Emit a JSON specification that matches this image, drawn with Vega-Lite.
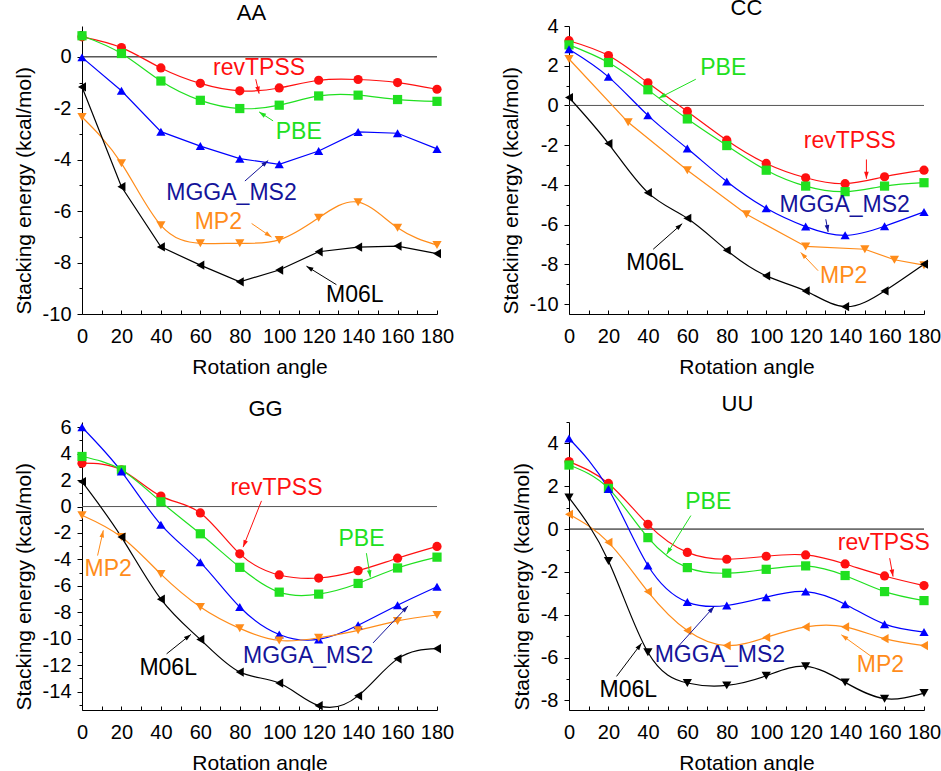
{
  "$schema": "https://vega.github.io/schema/vega-lite/v6.json",
  "padding": {"left": 13, "top": -3, "right": 5, "bottom": 5},
  "columns": 2,
  "spacing": {"row": 108, "column": 132},
  "bounds": "flush",
  "resolve": {"scale": {"shape": "independent", "x": "independent", "y": "independent"}},
  "config": {
    "font": "Liberation Sans",
    "view": {"stroke": null},
    "axis": {"grid": false, "domainColor": "black", "tickColor": "black", "labelColor": "black", "titleColor": "black", "labelFont": "Liberation Sans", "titleFont": "Liberation Sans", "labelFontSize": 20, "titleFontSize": 21, "titleFontWeight": "normal", "labelFlush": false, "labelOverlap": false, "domainWidth": 1, "tickWidth": 1},
    "axisX": {"tickSize": -4, "labelPadding": 16, "titlePadding": 10},
    "axisY": {"labelPadding": 6, "titlePadding": 8},
    "title": {"font": "Liberation Sans", "fontSize": 22, "fontWeight": "normal", "color": "black", "offset": -4}
  },
  "datasets": {
    "AA": [
      {"method": "revTPSS", "angle": 0, "energy": 0.78}, {"method": "revTPSS", "angle": 20, "energy": 0.36}, {"method": "revTPSS", "angle": 40, "energy": -0.43}, {"method": "revTPSS", "angle": 60, "energy": -1.03}, {"method": "revTPSS", "angle": 80, "energy": -1.32}, {"method": "revTPSS", "angle": 100, "energy": -1.21}, {"method": "revTPSS", "angle": 120, "energy": -0.91}, {"method": "revTPSS", "angle": 140, "energy": -0.88}, {"method": "revTPSS", "angle": 160, "energy": -1.0}, {"method": "revTPSS", "angle": 180, "energy": -1.26},
      {"method": "PBE", "angle": 0, "energy": 0.82}, {"method": "PBE", "angle": 20, "energy": 0.13}, {"method": "PBE", "angle": 40, "energy": -0.94}, {"method": "PBE", "angle": 60, "energy": -1.69}, {"method": "PBE", "angle": 80, "energy": -2.01}, {"method": "PBE", "angle": 100, "energy": -1.88}, {"method": "PBE", "angle": 120, "energy": -1.52}, {"method": "PBE", "angle": 140, "energy": -1.49}, {"method": "PBE", "angle": 160, "energy": -1.66}, {"method": "PBE", "angle": 180, "energy": -1.73},
      {"method": "MGGA_MS2", "angle": 0, "energy": -0.02}, {"method": "MGGA_MS2", "angle": 20, "energy": -1.32}, {"method": "MGGA_MS2", "angle": 40, "energy": -2.91}, {"method": "MGGA_MS2", "angle": 60, "energy": -3.47}, {"method": "MGGA_MS2", "angle": 80, "energy": -3.96}, {"method": "MGGA_MS2", "angle": 100, "energy": -4.18}, {"method": "MGGA_MS2", "angle": 120, "energy": -3.66}, {"method": "MGGA_MS2", "angle": 140, "energy": -2.92}, {"method": "MGGA_MS2", "angle": 160, "energy": -2.97}, {"method": "MGGA_MS2", "angle": 180, "energy": -3.58},
      {"method": "MP2", "angle": 0, "energy": -2.34}, {"method": "MP2", "angle": 20, "energy": -4.14}, {"method": "MP2", "angle": 40, "energy": -6.55}, {"method": "MP2", "angle": 60, "energy": -7.25}, {"method": "MP2", "angle": 80, "energy": -7.25}, {"method": "MP2", "angle": 100, "energy": -7.12}, {"method": "MP2", "angle": 120, "energy": -6.26}, {"method": "MP2", "angle": 140, "energy": -5.65}, {"method": "MP2", "angle": 160, "energy": -6.65}, {"method": "MP2", "angle": 180, "energy": -7.32},
      {"method": "M06L", "angle": 0, "energy": -1.17}, {"method": "M06L", "angle": 20, "energy": -5.05}, {"method": "M06L", "angle": 40, "energy": -7.39}, {"method": "M06L", "angle": 60, "energy": -8.1}, {"method": "M06L", "angle": 80, "energy": -8.75}, {"method": "M06L", "angle": 100, "energy": -8.29}, {"method": "M06L", "angle": 120, "energy": -7.58}, {"method": "M06L", "angle": 140, "energy": -7.4}, {"method": "M06L", "angle": 160, "energy": -7.36}, {"method": "M06L", "angle": 180, "energy": -7.65}
    ],
    "CC": [
      {"method": "revTPSS", "angle": 0, "energy": 3.26}, {"method": "revTPSS", "angle": 20, "energy": 2.51}, {"method": "revTPSS", "angle": 40, "energy": 1.14}, {"method": "revTPSS", "angle": 60, "energy": -0.3}, {"method": "revTPSS", "angle": 80, "energy": -1.75}, {"method": "revTPSS", "angle": 100, "energy": -2.92}, {"method": "revTPSS", "angle": 120, "energy": -3.64}, {"method": "revTPSS", "angle": 140, "energy": -3.94}, {"method": "revTPSS", "angle": 160, "energy": -3.59}, {"method": "revTPSS", "angle": 180, "energy": -3.26},
      {"method": "PBE", "angle": 0, "energy": 3.05}, {"method": "PBE", "angle": 20, "energy": 2.16}, {"method": "PBE", "angle": 40, "energy": 0.79}, {"method": "PBE", "angle": 60, "energy": -0.68}, {"method": "PBE", "angle": 80, "energy": -2.02}, {"method": "PBE", "angle": 100, "energy": -3.26}, {"method": "PBE", "angle": 120, "energy": -4.06}, {"method": "PBE", "angle": 140, "energy": -4.34}, {"method": "PBE", "angle": 160, "energy": -4.06}, {"method": "PBE", "angle": 180, "energy": -3.89},
      {"method": "MGGA_MS2", "angle": 0, "energy": 2.83}, {"method": "MGGA_MS2", "angle": 20, "energy": 1.44}, {"method": "MGGA_MS2", "angle": 40, "energy": -0.5}, {"method": "MGGA_MS2", "angle": 60, "energy": -2.17}, {"method": "MGGA_MS2", "angle": 80, "energy": -3.83}, {"method": "MGGA_MS2", "angle": 100, "energy": -5.18}, {"method": "MGGA_MS2", "angle": 120, "energy": -6.1}, {"method": "MGGA_MS2", "angle": 140, "energy": -6.54}, {"method": "MGGA_MS2", "angle": 160, "energy": -6.08}, {"method": "MGGA_MS2", "angle": 180, "energy": -5.36},
      {"method": "MP2", "angle": 0, "energy": 2.34}, {"method": "MP2", "angle": 30, "energy": -0.85}, {"method": "MP2", "angle": 60, "energy": -3.26}, {"method": "MP2", "angle": 90, "energy": -5.48}, {"method": "MP2", "angle": 120, "energy": -7.1}, {"method": "MP2", "angle": 150, "energy": -7.24}, {"method": "MP2", "angle": 165, "energy": -7.77}, {"method": "MP2", "angle": 180, "energy": -8.04},
      {"method": "M06L", "angle": 0, "energy": 0.4}, {"method": "M06L", "angle": 20, "energy": -1.92}, {"method": "M06L", "angle": 40, "energy": -4.39}, {"method": "M06L", "angle": 60, "energy": -5.68}, {"method": "M06L", "angle": 80, "energy": -7.29}, {"method": "M06L", "angle": 100, "energy": -8.58}, {"method": "M06L", "angle": 120, "energy": -9.34}, {"method": "M06L", "angle": 140, "energy": -10.13}, {"method": "M06L", "angle": 160, "energy": -9.34}, {"method": "M06L", "angle": 180, "energy": -7.99}
    ],
    "GG": [
      {"method": "revTPSS", "angle": 0, "energy": 3.28}, {"method": "revTPSS", "angle": 20, "energy": 2.77}, {"method": "revTPSS", "angle": 40, "energy": 0.79}, {"method": "revTPSS", "angle": 60, "energy": -0.48}, {"method": "revTPSS", "angle": 80, "energy": -3.58}, {"method": "revTPSS", "angle": 100, "energy": -5.18}, {"method": "revTPSS", "angle": 120, "energy": -5.41}, {"method": "revTPSS", "angle": 140, "energy": -4.85}, {"method": "revTPSS", "angle": 160, "energy": -3.91}, {"method": "revTPSS", "angle": 180, "energy": -3.02},
      {"method": "PBE", "angle": 0, "energy": 3.79}, {"method": "PBE", "angle": 20, "energy": 2.77}, {"method": "PBE", "angle": 40, "energy": 0.36}, {"method": "PBE", "angle": 60, "energy": -2.06}, {"method": "PBE", "angle": 80, "energy": -4.6}, {"method": "PBE", "angle": 100, "energy": -6.48}, {"method": "PBE", "angle": 120, "energy": -6.63}, {"method": "PBE", "angle": 140, "energy": -5.82}, {"method": "PBE", "angle": 160, "energy": -4.65}, {"method": "PBE", "angle": 180, "energy": -3.83},
      {"method": "MGGA_MS2", "angle": 0, "energy": 6.0}, {"method": "MGGA_MS2", "angle": 20, "energy": 2.65}, {"method": "MGGA_MS2", "angle": 40, "energy": -1.37}, {"method": "MGGA_MS2", "angle": 60, "energy": -4.22}, {"method": "MGGA_MS2", "angle": 80, "energy": -7.6}, {"method": "MGGA_MS2", "angle": 100, "energy": -9.68}, {"method": "MGGA_MS2", "angle": 120, "energy": -10.06}, {"method": "MGGA_MS2", "angle": 140, "energy": -8.99}, {"method": "MGGA_MS2", "angle": 160, "energy": -7.47}, {"method": "MGGA_MS2", "angle": 180, "energy": -6.07},
      {"method": "MP2", "angle": 0, "energy": -0.66}, {"method": "MP2", "angle": 20, "energy": -2.31}, {"method": "MP2", "angle": 40, "energy": -5.11}, {"method": "MP2", "angle": 60, "energy": -7.6}, {"method": "MP2", "angle": 80, "energy": -9.22}, {"method": "MP2", "angle": 100, "energy": -10.14}, {"method": "MP2", "angle": 120, "energy": -9.93}, {"method": "MP2", "angle": 140, "energy": -9.37}, {"method": "MP2", "angle": 160, "energy": -8.66}, {"method": "MP2", "angle": 180, "energy": -8.21},
      {"method": "M06L", "angle": 0, "energy": 1.88}, {"method": "M06L", "angle": 20, "energy": -2.31}, {"method": "M06L", "angle": 40, "energy": -7.01}, {"method": "M06L", "angle": 60, "energy": -10.06}, {"method": "M06L", "angle": 80, "energy": -12.53}, {"method": "M06L", "angle": 100, "energy": -13.36}, {"method": "M06L", "angle": 120, "energy": -15.07}, {"method": "M06L", "angle": 140, "energy": -14.33}, {"method": "M06L", "angle": 160, "energy": -11.53}, {"method": "M06L", "angle": 180, "energy": -10.75}
    ],
    "UU": [
      {"method": "revTPSS", "angle": 0, "energy": 3.15}, {"method": "revTPSS", "angle": 20, "energy": 2.13}, {"method": "revTPSS", "angle": 40, "energy": 0.22}, {"method": "revTPSS", "angle": 60, "energy": -1.09}, {"method": "revTPSS", "angle": 80, "energy": -1.41}, {"method": "revTPSS", "angle": 100, "energy": -1.27}, {"method": "revTPSS", "angle": 120, "energy": -1.21}, {"method": "revTPSS", "angle": 140, "energy": -1.63}, {"method": "revTPSS", "angle": 160, "energy": -2.19}, {"method": "revTPSS", "angle": 180, "energy": -2.64},
      {"method": "PBE", "angle": 0, "energy": 2.99}, {"method": "PBE", "angle": 20, "energy": 1.9}, {"method": "PBE", "angle": 40, "energy": -0.4}, {"method": "PBE", "angle": 60, "energy": -1.8}, {"method": "PBE", "angle": 80, "energy": -2.06}, {"method": "PBE", "angle": 100, "energy": -1.88}, {"method": "PBE", "angle": 120, "energy": -1.72}, {"method": "PBE", "angle": 140, "energy": -2.17}, {"method": "PBE", "angle": 160, "energy": -2.92}, {"method": "PBE", "angle": 180, "energy": -3.34},
      {"method": "MGGA_MS2", "angle": 0, "energy": 4.23}, {"method": "MGGA_MS2", "angle": 20, "energy": 1.87}, {"method": "MGGA_MS2", "angle": 40, "energy": -1.7}, {"method": "MGGA_MS2", "angle": 60, "energy": -3.41}, {"method": "MGGA_MS2", "angle": 80, "energy": -3.57}, {"method": "MGGA_MS2", "angle": 100, "energy": -3.18}, {"method": "MGGA_MS2", "angle": 120, "energy": -2.92}, {"method": "MGGA_MS2", "angle": 140, "energy": -3.51}, {"method": "MGGA_MS2", "angle": 160, "energy": -4.44}, {"method": "MGGA_MS2", "angle": 180, "energy": -4.81},
      {"method": "MP2", "angle": 0, "energy": 0.69}, {"method": "MP2", "angle": 20, "energy": -0.62}, {"method": "MP2", "angle": 40, "energy": -2.92}, {"method": "MP2", "angle": 60, "energy": -4.74}, {"method": "MP2", "angle": 80, "energy": -5.44}, {"method": "MP2", "angle": 100, "energy": -5.06}, {"method": "MP2", "angle": 120, "energy": -4.57}, {"method": "MP2", "angle": 140, "energy": -4.57}, {"method": "MP2", "angle": 160, "energy": -5.12}, {"method": "MP2", "angle": 180, "energy": -5.44},
      {"method": "M06L", "angle": 0, "energy": 1.47}, {"method": "M06L", "angle": 20, "energy": -1.49}, {"method": "M06L", "angle": 40, "energy": -5.75}, {"method": "M06L", "angle": 60, "energy": -7.19}, {"method": "M06L", "angle": 80, "energy": -7.3}, {"method": "M06L", "angle": 100, "energy": -6.85}, {"method": "M06L", "angle": 120, "energy": -6.41}, {"method": "M06L", "angle": 140, "energy": -7.16}, {"method": "M06L", "angle": 160, "energy": -7.92}, {"method": "M06L", "angle": 180, "energy": -7.66}
    ],
    "notes": [
      {"panel": "AA", "method": "revTPSS", "tx": 89.8, "ty": -0.42, "x1": 88.1, "y1": -0.87, "x2": 89.8, "y2": -1.43, "dir": 167},
      {"panel": "AA", "method": "PBE", "tx": 109.9, "ty": -2.92, "x1": 96.9, "y1": -2.49, "x2": 89.8, "y2": -2.14, "dir": -57},
      {"panel": "AA", "method": "MGGA_MS2", "tx": 75.8, "ty": -5.29, "x1": 82.6, "y1": -4.83, "x2": 94.4, "y2": -4.03, "dir": 48.5},
      {"panel": "AA", "method": "MP2", "tx": 69.1, "ty": -6.42, "x1": 86.0, "y1": -6.48, "x2": 96.1, "y2": -7.01, "dir": 124},
      {"panel": "AA", "method": "M06L", "tx": 138.3, "ty": -9.25, "x1": 129.0, "y1": -8.86, "x2": 113.8, "y2": -8.14, "dir": -58.6},
      {"panel": "CC", "method": "PBE", "tx": 78.2, "ty": 1.88, "x1": 64.3, "y1": 1.32, "x2": 45.6, "y2": 0.37, "dir": -117},
      {"panel": "CC", "method": "revTPSS", "tx": 142.4, "ty": -1.8, "x1": 150.8, "y1": -2.72, "x2": 150.8, "y2": -3.69, "dir": 180},
      {"panel": "CC", "method": "MGGA_MS2", "tx": 139.8, "ty": -5.01, "x1": 130.2, "y1": -5.73, "x2": 131.4, "y2": -6.37, "dir": 170},
      {"panel": "CC", "method": "MP2", "tx": 139.3, "ty": -8.61, "x1": 126.3, "y1": -8.32, "x2": 117.5, "y2": -7.4, "dir": -43},
      {"panel": "CC", "method": "M06L", "tx": 43.6, "ty": -7.91, "x1": 42.7, "y1": -7.24, "x2": 57.4, "y2": -5.95, "dir": 48.5},
      {"panel": "GG", "method": "revTPSS", "tx": 98.6, "ty": 1.37, "x1": 91.0, "y1": 0.43, "x2": 81.7, "y2": -3.07, "dir": -158},
      {"panel": "GG", "method": "PBE", "tx": 141.7, "ty": -2.49, "x1": 144.2, "y1": -3.53, "x2": 146.2, "y2": -5.36, "dir": 170.5},
      {"panel": "GG", "method": "MP2", "tx": 13.3, "ty": -4.72, "x1": 7.9, "y1": -3.71, "x2": 10.8, "y2": -1.8, "dir": 12.8},
      {"panel": "GG", "method": "M06L", "tx": 43.7, "ty": -12.22, "x1": 42.9, "y1": -11.15, "x2": 55.2, "y2": -9.68, "dir": 51.5},
      {"panel": "GG", "method": "MGGA_MS2", "tx": 114.7, "ty": -11.33, "x1": 147.6, "y1": -10.32, "x2": 165.3, "y2": -7.52, "dir": 43.7},
      {"panel": "UU", "method": "PBE", "tx": 70.6, "ty": 1.28, "x1": 61.8, "y1": 0.63, "x2": 49.5, "y2": -1.18, "dir": -148},
      {"panel": "UU", "method": "revTPSS", "tx": 159.6, "ty": -0.66, "x1": 162.6, "y1": -1.36, "x2": 164.3, "y2": -2.22, "dir": 170},
      {"panel": "UU", "method": "MGGA_MS2", "tx": 76.5, "ty": -5.87, "x1": 55.4, "y1": -5.48, "x2": 73.6, "y2": -3.62, "dir": 42},
      {"panel": "UU", "method": "MP2", "tx": 157.9, "ty": -6.37, "x1": 153.3, "y1": -5.95, "x2": 138.1, "y2": -4.94, "dir": -54},
      {"panel": "UU", "method": "M06L", "tx": 30.1, "ty": -7.5, "x1": 24.1, "y1": -6.88, "x2": 36.8, "y2": -5.33, "dir": 37}
    ]
  },
  "concat": [
    {
      "title": {"text": "AA", "dx": -8},
      "width": 355, "height": 288,
      "layer": [
        {"data": {"values": [{}]}, "mark": {"type": "rule", "color": "black", "strokeWidth": 1}, "encoding": {"y": {"datum": 0, "type": "quantitative"}}},
        {"data": {"name": "AA"}, "transform": [{"filter": "datum.method !== 'M06L' && datum.method !== 'MGGA_MS2'"}], "mark": {"type": "line", "interpolate": "natural", "strokeWidth": 1.2},
         "encoding": {
          "x": {"field": "angle", "type": "quantitative", "title": "Rotation angle", "scale": {"domain": [0, 180], "nice": false, "zero": false}, "axis": {"values": [0,10,20,30,40,50,60,70,80,90,100,110,120,130,140,150,160,170,180], "tickCount": 100, "labelExpr": "datum.value % 20 === 0 ? '' + datum.value : ''", "labelOverlap": false, "labelFlush": false}},
          "y": {"field": "energy", "type": "quantitative", "title": "Stacking energy (kcal/mol)", "scale": {"domain": [-10, 1.2], "nice": false, "zero": false}, "axis": {"values": [-10,-9,-8,-7,-6,-5,-4,-3,-2,-1,0,1], "tickCount": 100, "titleAnchor": "start", "labelExpr": "datum.value % 2 === 0 ? '' + datum.value : ''", "labelOverlap": false, "labelFlush": false, "tickSize": {"condition": {"test": "datum.value % 2 === 0", "value": 5}, "value": 3}}},
          "color": {"field": "method", "type": "nominal", "scale": {"domain": ["revTPSS", "PBE", "MGGA_MS2", "MP2", "M06L"], "range": ["#ff1010", "#20e020", "#0000ff", "#ff8c1a", "#000000"]}, "legend": null}
         }},
        {"data": {"name": "AA"}, "transform": [{"filter": "datum.method === 'M06L' || datum.method === 'MGGA_MS2'"}], "mark": {"type": "line", "interpolate": "linear", "strokeWidth": 1.2},
         "encoding": {
          "x": {"field": "angle", "type": "quantitative", "title": "Rotation angle"},
          "y": {"field": "energy", "type": "quantitative", "title": "Stacking energy (kcal/mol)"},
          "color": {"field": "method", "type": "nominal", "legend": null}
         }},
        {"data": {"name": "AA"}, "mark": {"type": "point", "filled": true, "size": 85, "opacity": 1},
         "encoding": {
          "x": {"field": "angle", "type": "quantitative", "title": "Rotation angle"},
          "y": {"field": "energy", "type": "quantitative", "title": "Stacking energy (kcal/mol)"},
          "color": {"field": "method", "type": "nominal", "legend": null},
          "shape": {"field": "method", "type": "nominal", "scale": {"domain": ["revTPSS", "PBE", "MGGA_MS2", "MP2", "M06L"], "range": ["circle", "square", "triangle-up", "triangle-down", "triangle-left"]}, "legend": null}
         }},
        {"data": {"name": "notes"}, "transform": [{"filter": "datum.panel === 'AA'"}], "mark": {"type": "rule", "strokeWidth": 1},
         "encoding": {
          "x": {"field": "x1", "type": "quantitative", "title": "Rotation angle"}, "y": {"field": "y1", "type": "quantitative", "title": "Stacking energy (kcal/mol)"},
          "x2": {"field": "x2"}, "y2": {"field": "y2"},
          "stroke": {"field": "method", "type": "nominal", "scale": {"domain": ["revTPSS", "PBE", "MGGA_MS2", "MP2", "M06L"], "range": ["#ff1010", "#20e020", "#14149a", "#ff8c1a", "#000000"]}, "legend": null}
         }},
        {"data": {"name": "notes"}, "transform": [{"filter": "datum.panel === 'AA'"}], "mark": {"type": "point", "filled": true, "opacity": 1, "size": 196, "shape": "M0,0L-0.33,1L0.33,1Z"},
         "encoding": {
          "x": {"field": "x2", "type": "quantitative", "title": "Rotation angle"}, "y": {"field": "y2", "type": "quantitative", "title": "Stacking energy (kcal/mol)"},
          "angle": {"field": "dir", "type": "quantitative", "scale": null},
          "fill": {"field": "method", "type": "nominal", "scale": {"domain": ["revTPSS", "PBE", "MGGA_MS2", "MP2", "M06L"], "range": ["#ff1010", "#20e020", "#14149a", "#ff8c1a", "#000000"]}, "legend": null}
         }},
        {"data": {"name": "notes"}, "transform": [{"filter": "datum.panel === 'AA'"}], "mark": {"type": "text", "font": "Liberation Sans", "fontSize": 23, "align": "center", "baseline": "middle"},
         "encoding": {
          "x": {"field": "tx", "type": "quantitative", "title": "Rotation angle"}, "y": {"field": "ty", "type": "quantitative", "title": "Stacking energy (kcal/mol)"},
          "text": {"field": "method"},
          "fill": {"field": "method", "type": "nominal", "legend": null}
         }}
      ]
    },
    {
      "title": {"text": "CC"},
      "width": 355, "height": 288,
      "layer": [
        {"data": {"values": [{}]}, "mark": {"type": "rule", "color": "#555555", "strokeWidth": 1}, "encoding": {"y": {"datum": 0, "type": "quantitative"}}},
        {"data": {"name": "CC"}, "transform": [{"filter": "datum.method !== 'MP2'"}], "mark": {"type": "line", "interpolate": "natural", "strokeWidth": 1.2},
         "encoding": {
          "x": {"field": "angle", "type": "quantitative", "title": "Rotation angle", "scale": {"domain": [0, 180], "nice": false, "zero": false}, "axis": {"values": [0,10,20,30,40,50,60,70,80,90,100,110,120,130,140,150,160,170,180], "tickCount": 100, "labelExpr": "datum.value % 20 === 0 ? '' + datum.value : ''", "labelOverlap": false, "labelFlush": false}},
          "y": {"field": "energy", "type": "quantitative", "title": "Stacking energy (kcal/mol)", "scale": {"domain": [-10.5, 4], "nice": false, "zero": false}, "axis": {"values": [-10,-9,-8,-7,-6,-5,-4,-3,-2,-1,0,1,2,3,4], "tickCount": 100, "titleAnchor": "start", "labelExpr": "datum.value % 2 === 0 ? '' + datum.value : ''", "labelOverlap": false, "labelFlush": false, "tickSize": {"condition": {"test": "datum.value % 2 === 0", "value": 5}, "value": 3}}},
          "color": {"field": "method", "type": "nominal", "scale": {"domain": ["revTPSS", "PBE", "MGGA_MS2", "MP2", "M06L"], "range": ["#ff1010", "#20e020", "#0000ff", "#ff8c1a", "#000000"]}, "legend": null}
         }},
        {"data": {"name": "CC"}, "transform": [{"filter": "datum.method === 'MP2'"}], "mark": {"type": "line", "interpolate": "linear", "strokeWidth": 1.2},
         "encoding": {
          "x": {"field": "angle", "type": "quantitative", "title": "Rotation angle"},
          "y": {"field": "energy", "type": "quantitative", "title": "Stacking energy (kcal/mol)"},
          "color": {"field": "method", "type": "nominal", "legend": null}
         }},
        {"data": {"name": "CC"}, "mark": {"type": "point", "filled": true, "size": 85, "opacity": 1},
         "encoding": {
          "x": {"field": "angle", "type": "quantitative", "title": "Rotation angle"},
          "y": {"field": "energy", "type": "quantitative", "title": "Stacking energy (kcal/mol)"},
          "color": {"field": "method", "type": "nominal", "legend": null},
          "shape": {"field": "method", "type": "nominal", "scale": {"domain": ["revTPSS", "PBE", "MGGA_MS2", "MP2", "M06L"], "range": ["circle", "square", "triangle-up", "triangle-down", "triangle-left"]}, "legend": null}
         }},
        {"data": {"name": "notes"}, "transform": [{"filter": "datum.panel === 'CC'"}], "mark": {"type": "rule", "strokeWidth": 1},
         "encoding": {
          "x": {"field": "x1", "type": "quantitative", "title": "Rotation angle"}, "y": {"field": "y1", "type": "quantitative", "title": "Stacking energy (kcal/mol)"},
          "x2": {"field": "x2"}, "y2": {"field": "y2"},
          "stroke": {"field": "method", "type": "nominal", "scale": {"domain": ["revTPSS", "PBE", "MGGA_MS2", "MP2", "M06L"], "range": ["#ff1010", "#20e020", "#14149a", "#ff8c1a", "#000000"]}, "legend": null}
         }},
        {"data": {"name": "notes"}, "transform": [{"filter": "datum.panel === 'CC'"}], "mark": {"type": "point", "filled": true, "opacity": 1, "size": 196, "shape": "M0,0L-0.33,1L0.33,1Z"},
         "encoding": {
          "x": {"field": "x2", "type": "quantitative", "title": "Rotation angle"}, "y": {"field": "y2", "type": "quantitative", "title": "Stacking energy (kcal/mol)"},
          "angle": {"field": "dir", "type": "quantitative", "scale": null},
          "fill": {"field": "method", "type": "nominal", "scale": {"domain": ["revTPSS", "PBE", "MGGA_MS2", "MP2", "M06L"], "range": ["#ff1010", "#20e020", "#14149a", "#ff8c1a", "#000000"]}, "legend": null}
         }},
        {"data": {"name": "notes"}, "transform": [{"filter": "datum.panel === 'CC'"}], "mark": {"type": "text", "font": "Liberation Sans", "fontSize": 23, "align": "center", "baseline": "middle"},
         "encoding": {
          "x": {"field": "tx", "type": "quantitative", "title": "Rotation angle"}, "y": {"field": "ty", "type": "quantitative", "title": "Stacking energy (kcal/mol)"},
          "text": {"field": "method"},
          "fill": {"field": "method", "type": "nominal", "legend": null}
         }}
      ]
    },
    {
      "title": {"text": "GG", "dx": 6},
      "width": 355, "height": 288,
      "layer": [
        {"data": {"values": [{}]}, "mark": {"type": "rule", "color": "#555555", "strokeWidth": 1}, "encoding": {"y": {"datum": 0, "type": "quantitative"}}},
        {"data": {"name": "GG"}, "mark": {"type": "line", "interpolate": "natural", "strokeWidth": 1.2},
         "encoding": {
          "x": {"field": "angle", "type": "quantitative", "title": "Rotation angle", "scale": {"domain": [0, 180], "nice": false, "zero": false}, "axis": {"values": [0,10,20,30,40,50,60,70,80,90,100,110,120,130,140,150,160,170,180], "tickCount": 100, "labelExpr": "datum.value % 20 === 0 ? '' + datum.value : ''", "labelOverlap": false, "labelFlush": false}},
          "y": {"field": "energy", "type": "quantitative", "title": "Stacking energy (kcal/mol)", "scale": {"domain": [-15.4, 6.4], "nice": false, "zero": false}, "axis": {"values": [-15,-14,-13,-12,-11,-10,-9,-8,-7,-6,-5,-4,-3,-2,-1,0,1,2,3,4,5,6], "tickCount": 100, "titleAnchor": "start", "labelExpr": "datum.value % 2 === 0 ? '' + datum.value : ''", "labelOverlap": false, "labelFlush": false, "tickSize": {"condition": {"test": "datum.value % 2 === 0", "value": 5}, "value": 3}}},
          "color": {"field": "method", "type": "nominal", "scale": {"domain": ["revTPSS", "PBE", "MGGA_MS2", "MP2", "M06L"], "range": ["#ff1010", "#20e020", "#0000ff", "#ff8c1a", "#000000"]}, "legend": null}
         }},
        {"data": {"name": "GG"}, "mark": {"type": "point", "filled": true, "size": 85, "opacity": 1},
         "encoding": {
          "x": {"field": "angle", "type": "quantitative", "title": "Rotation angle"},
          "y": {"field": "energy", "type": "quantitative", "title": "Stacking energy (kcal/mol)"},
          "color": {"field": "method", "type": "nominal", "legend": null},
          "shape": {"field": "method", "type": "nominal", "scale": {"domain": ["revTPSS", "PBE", "MGGA_MS2", "MP2", "M06L"], "range": ["circle", "square", "triangle-up", "triangle-down", "triangle-left"]}, "legend": null}
         }},
        {"data": {"name": "notes"}, "transform": [{"filter": "datum.panel === 'GG'"}], "mark": {"type": "rule", "strokeWidth": 1},
         "encoding": {
          "x": {"field": "x1", "type": "quantitative", "title": "Rotation angle"}, "y": {"field": "y1", "type": "quantitative", "title": "Stacking energy (kcal/mol)"},
          "x2": {"field": "x2"}, "y2": {"field": "y2"},
          "stroke": {"field": "method", "type": "nominal", "scale": {"domain": ["revTPSS", "PBE", "MGGA_MS2", "MP2", "M06L"], "range": ["#ff1010", "#20e020", "#14149a", "#ff8c1a", "#000000"]}, "legend": null}
         }},
        {"data": {"name": "notes"}, "transform": [{"filter": "datum.panel === 'GG'"}], "mark": {"type": "point", "filled": true, "opacity": 1, "size": 196, "shape": "M0,0L-0.33,1L0.33,1Z"},
         "encoding": {
          "x": {"field": "x2", "type": "quantitative", "title": "Rotation angle"}, "y": {"field": "y2", "type": "quantitative", "title": "Stacking energy (kcal/mol)"},
          "angle": {"field": "dir", "type": "quantitative", "scale": null},
          "fill": {"field": "method", "type": "nominal", "scale": {"domain": ["revTPSS", "PBE", "MGGA_MS2", "MP2", "M06L"], "range": ["#ff1010", "#20e020", "#14149a", "#ff8c1a", "#000000"]}, "legend": null}
         }},
        {"data": {"name": "notes"}, "transform": [{"filter": "datum.panel === 'GG'"}], "mark": {"type": "text", "font": "Liberation Sans", "fontSize": 23, "align": "center", "baseline": "middle"},
         "encoding": {
          "x": {"field": "tx", "type": "quantitative", "title": "Rotation angle"}, "y": {"field": "ty", "type": "quantitative", "title": "Stacking energy (kcal/mol)"},
          "text": {"field": "method"},
          "fill": {"field": "method", "type": "nominal", "legend": null}
         }}
      ]
    },
    {
      "title": {"text": "UU", "dx": -9},
      "width": 355, "height": 288,
      "layer": [
        {"data": {"values": [{}]}, "mark": {"type": "rule", "color": "black", "strokeWidth": 1}, "encoding": {"y": {"datum": 0, "type": "quantitative"}}},
        {"data": {"name": "UU"}, "mark": {"type": "line", "interpolate": "natural", "strokeWidth": 1.2},
         "encoding": {
          "x": {"field": "angle", "type": "quantitative", "title": "Rotation angle", "scale": {"domain": [0, 180], "nice": false, "zero": false}, "axis": {"values": [0,10,20,30,40,50,60,70,80,90,100,110,120,130,140,150,160,170,180], "tickCount": 100, "labelExpr": "datum.value % 20 === 0 ? '' + datum.value : ''", "labelOverlap": false, "labelFlush": false}},
          "y": {"field": "energy", "type": "quantitative", "title": "Stacking energy (kcal/mol)", "scale": {"domain": [-8.45, 5], "nice": false, "zero": false}, "axis": {"values": [-8,-7,-6,-5,-4,-3,-2,-1,0,1,2,3,4,5], "tickCount": 100, "titleAnchor": "start", "labelExpr": "datum.value % 2 === 0 ? '' + datum.value : ''", "labelOverlap": false, "labelFlush": false, "tickSize": {"condition": {"test": "datum.value % 2 === 0", "value": 5}, "value": 3}}},
          "color": {"field": "method", "type": "nominal", "scale": {"domain": ["revTPSS", "PBE", "MGGA_MS2", "MP2", "M06L"], "range": ["#ff1010", "#20e020", "#0000ff", "#ff8c1a", "#000000"]}, "legend": null}
         }},
        {"data": {"name": "UU"}, "mark": {"type": "point", "filled": true, "size": 85, "opacity": 1},
         "encoding": {
          "x": {"field": "angle", "type": "quantitative", "title": "Rotation angle"},
          "y": {"field": "energy", "type": "quantitative", "title": "Stacking energy (kcal/mol)"},
          "color": {"field": "method", "type": "nominal", "legend": null},
          "shape": {"field": "method", "type": "nominal", "scale": {"domain": ["revTPSS", "PBE", "MGGA_MS2", "MP2", "M06L"], "range": ["circle", "square", "triangle-up", "triangle-left", "triangle-down"]}, "legend": null}
         }},
        {"data": {"name": "notes"}, "transform": [{"filter": "datum.panel === 'UU'"}], "mark": {"type": "rule", "strokeWidth": 1},
         "encoding": {
          "x": {"field": "x1", "type": "quantitative", "title": "Rotation angle"}, "y": {"field": "y1", "type": "quantitative", "title": "Stacking energy (kcal/mol)"},
          "x2": {"field": "x2"}, "y2": {"field": "y2"},
          "stroke": {"field": "method", "type": "nominal", "scale": {"domain": ["revTPSS", "PBE", "MGGA_MS2", "MP2", "M06L"], "range": ["#ff1010", "#20e020", "#14149a", "#ff8c1a", "#000000"]}, "legend": null}
         }},
        {"data": {"name": "notes"}, "transform": [{"filter": "datum.panel === 'UU'"}], "mark": {"type": "point", "filled": true, "opacity": 1, "size": 196, "shape": "M0,0L-0.33,1L0.33,1Z"},
         "encoding": {
          "x": {"field": "x2", "type": "quantitative", "title": "Rotation angle"}, "y": {"field": "y2", "type": "quantitative", "title": "Stacking energy (kcal/mol)"},
          "angle": {"field": "dir", "type": "quantitative", "scale": null},
          "fill": {"field": "method", "type": "nominal", "scale": {"domain": ["revTPSS", "PBE", "MGGA_MS2", "MP2", "M06L"], "range": ["#ff1010", "#20e020", "#14149a", "#ff8c1a", "#000000"]}, "legend": null}
         }},
        {"data": {"name": "notes"}, "transform": [{"filter": "datum.panel === 'UU'"}], "mark": {"type": "text", "font": "Liberation Sans", "fontSize": 23, "align": "center", "baseline": "middle"},
         "encoding": {
          "x": {"field": "tx", "type": "quantitative", "title": "Rotation angle"}, "y": {"field": "ty", "type": "quantitative", "title": "Stacking energy (kcal/mol)"},
          "text": {"field": "method"},
          "fill": {"field": "method", "type": "nominal", "legend": null}
         }}
      ]
    }
  ]
}
